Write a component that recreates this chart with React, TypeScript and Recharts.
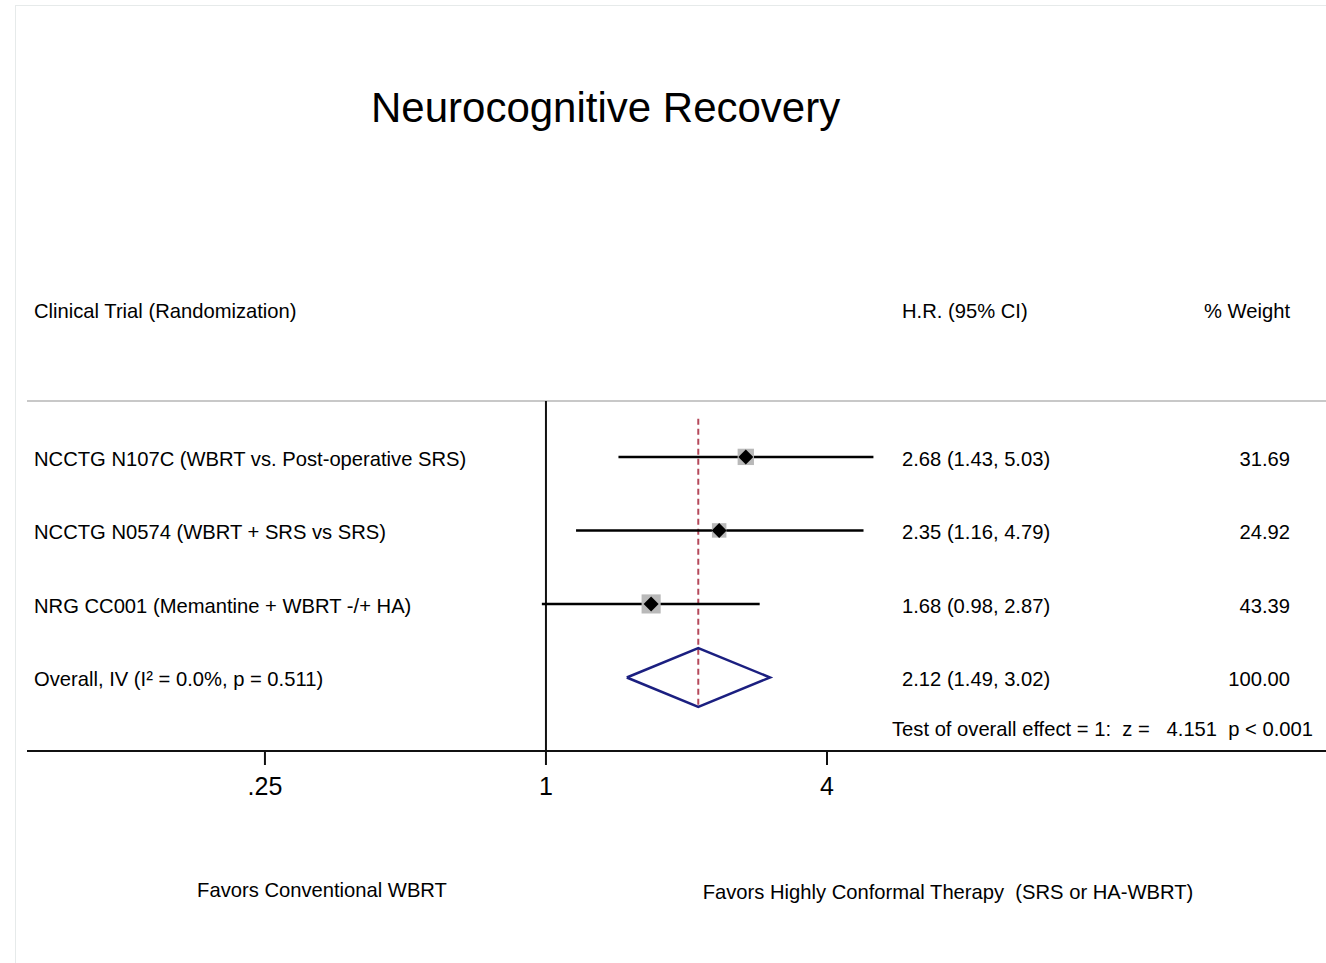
import React from "react";
import { ComposedChart, XAxis, YAxis, Scatter, ReferenceLine } from "recharts";

// study rows, top to bottom
const trialNames = [
  "NCCTG N107C (WBRT vs. Post-operative SRS)",
  "NCCTG N0574 (WBRT + SRS vs SRS)",
  "NRG CC001 (Memantine + WBRT -/+ HA)",
];
const hazardRatios = [2.68, 2.35, 1.68];
const ciLow = [1.43, 1.16, 0.98];
const ciHigh = [5.03, 4.79, 2.87];
const weights = [31.69, 24.92, 43.39];

// pooled estimate
const overallLabel = "Overall, IV (I\u00B2 = 0.0%, p = 0.511)";
const overallHR = 2.12;
const overallLow = 1.49;
const overallHigh = 3.02;
const overallWeight = 100.0;

const xTicks = [0.25, 1, 4];
const tickText: Record<number, string> = { 0.25: ".25", 1: "1", 4: "4" };

const FONT = "'Liberation Sans', Arial, Helvetica, sans-serif";
const W = 1326;
const H = 963;

const overallRow = trialNames.length + 1;

const trialPoints = trialNames.map((name, i) => ({
  x: hazardRatios[i],
  y: i + 1,
  weight: weights[i],
}));

const tableRows = [
  ...trialNames.map((name, i) => ({
    x: 1,
    y: i + 1,
    label: name,
    hr: `${hazardRatios[i].toFixed(2)} (${ciLow[i].toFixed(2)}, ${ciHigh[i].toFixed(2)})`,
    weight: weights[i].toFixed(2),
  })),
  {
    x: 1,
    y: overallRow,
    label: overallLabel,
    hr: `${overallHR.toFixed(2)} (${overallLow.toFixed(2)}, ${overallHigh.toFixed(2)})`,
    weight: overallWeight.toFixed(2),
  },
];

const diamondH = 0.4;
const diamond = [
  { x: overallLow, y: overallRow },
  { x: overallHR, y: overallRow - diamondH },
  { x: overallHigh, y: overallRow },
  { x: overallHR, y: overallRow + diamondH },
  { x: overallLow, y: overallRow },
];

const StudyMarker = (props: any) => {
  const { cx, cy, payload } = props;
  const side = 2.9 * Math.sqrt(payload.weight);
  const d = 7.5;
  return (
    <g>
      <rect x={cx - side / 2} y={cy - side / 2} width={side} height={side} fill="#b9b9b9" />
      <polygon
        points={`${cx - d},${cy} ${cx},${cy - d} ${cx + d},${cy} ${cx},${cy + d}`}
        fill="#000"
      />
    </g>
  );
};

const TableRow = (props: any) => {
  const { cy, payload } = props;
  const common = { fontFamily: FONT, fontSize: 20.2, fill: "#000", dominantBaseline: "central" as const };
  const y = cy + 2;
  return (
    <g>
      <text x={34} y={y} {...common}>{payload.label}</text>
      <text x={902} y={y} {...common}>{payload.hr}</text>
      <text x={1290} y={y} textAnchor="end" {...common}>{payload.weight}</text>
    </g>
  );
};

const Nothing = () => <g />;

export default function App() {
  const txt = (left: number, top: number, size: number, s: string, anchor: "left" | "center" | "right" = "left") => (
    <div
      style={{
        position: "absolute",
        top: top - size * 0.6,
        left: anchor === "left" ? left : anchor === "center" ? left - 400 : left - 800,
        width: anchor === "left" ? undefined : 800,
        textAlign: anchor === "center" ? "center" : anchor === "right" ? "right" : "left",
        fontSize: size,
        lineHeight: `${size * 1.2}px`,
        whiteSpace: "pre",
        color: "#000",
      }}
    >
      {s}
    </div>
  );

  return (
    <div style={{ position: "absolute", left: 0, top: 0, width: W, height: H, background: "#fff", fontFamily: FONT, overflow: "hidden" }}>
      <div style={{ position: "absolute", left: 15, top: 5, right: 0, bottom: 0, borderLeft: "1px solid #e6eaea", borderTop: "1px solid #e6eaea" }} />
      {txt(371, 108, 42, "Neurocognitive Recovery")}
      {txt(34, 311, 20.2, "Clinical Trial (Randomization)")}
      {txt(902, 311, 20.2, "H.R. (95% CI)")}
      {txt(1290, 311, 20.2, "% Weight", "right")}
      {txt(892, 729, 20.2, "Test of overall effect = 1:  z =   4.151  p < 0.001")}
      {txt(322, 890, 20.2, "Favors Conventional WBRT", "center")}
      {txt(948, 892, 20.2, "Favors Highly Conformal Therapy  (SRS or HA-WBRT)", "center")}
      <div style={{ position: "absolute", left: 0, top: 0 }}>
        <ComposedChart width={W} height={H} margin={{ top: 401, right: 0, bottom: 152, left: 27 }}>
          <XAxis
            type="number"
            dataKey="x"
            scale="log"
            domain={[0.0773, 46.9]}
            allowDataOverflow
            ticks={xTicks}
            tickFormatter={(v: number) => tickText[v] ?? String(v)}
            height={60}
            tickSize={14}
            tickMargin={12}
            axisLine={{ stroke: "#111", strokeWidth: 2 }}
            tickLine={{ stroke: "#111", strokeWidth: 2 }}
            tick={{ fill: "#000", fontSize: 25, fontFamily: FONT }}
          />
          <YAxis type="number" dataKey="y" hide domain={[0.24, 5]} reversed allowDataOverflow />
          <ReferenceLine y={0.24} stroke="#c8c8c8" strokeWidth={2} />
          <ReferenceLine x={1} stroke="#111" strokeWidth={2} />
          <ReferenceLine
            segment={[{ x: overallHR, y: 0.48 }, { x: overallHR, y: overallRow + diamondH }]}
            stroke="#b5495b"
            strokeWidth={2}
            strokeDasharray="6 4"
          />
          {trialNames.map((name, i) => (
            <ReferenceLine
              key={name}
              segment={[{ x: ciLow[i], y: i + 1 }, { x: ciHigh[i], y: i + 1 }]}
              stroke="#000"
              strokeWidth={2.5}
            />
          ))}
          <Scatter data={trialPoints} shape={StudyMarker} isAnimationActive={false} />
          <Scatter
            data={diamond}
            line={{ stroke: "#1b1f80", strokeWidth: 2.5 }}
            lineType="joint"
            shape={Nothing}
            isAnimationActive={false}
          />
          <Scatter data={tableRows} shape={TableRow} isAnimationActive={false} />
        </ComposedChart>
      </div>
    </div>
  );
}
